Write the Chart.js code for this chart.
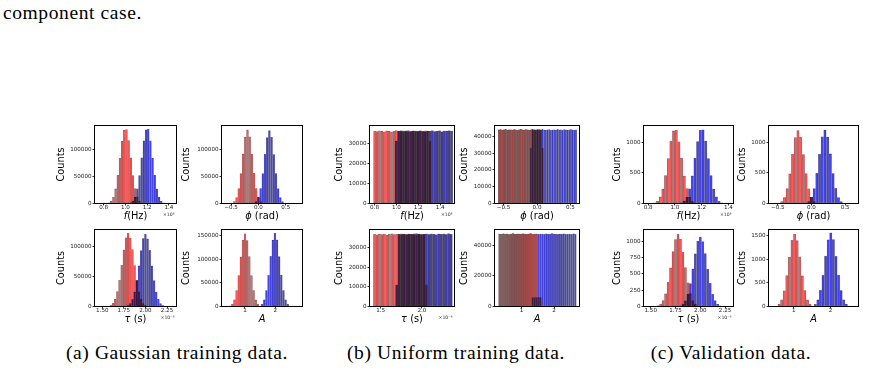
<!DOCTYPE html>
<html>
<head>
<meta charset="utf-8">
<script src="https://cdn.jsdelivr.net/npm/chart.js@4.4.1/dist/chart.umd.min.js"></script>
<style>
  html, body { margin: 0; padding: 0; background: #fff; }
  body { width: 888px; height: 392px; position: relative; overflow: hidden; }
  canvas { position: absolute; }
  .txt { position: absolute; font-family: 'Liberation Serif', serif; font-size: 19.5px; line-height: 1; letter-spacing: 0.6px; color: #000; white-space: nowrap; }
  .cap { transform: translateX(-50%); }
</style>
</head>
<body>
<div class="txt" style="left:3px; top:3px;">component case.</div>
<div class="txt cap" style="left:177px; top:343px;">(a) Gaussian training data.</div>
<div class="txt cap" style="left:456px; top:343px;">(b) Uniform training data.</div>
<div class="txt cap" style="left:731px; top:343px;">(c) Validation data.</div>
<script>
// ---- tick values / labels ----
const freqTicks = [0.8, 1.0, 1.2, 1.4];
const freqTickLabels = ['0.8', '1.0', '1.2', '1.4'];
const phiTicks = [-0.5, 0, 0.5];
const phiTickLabels = ['\u22120.5', '0.0', '0.5'];
const tauTicks = [1.5, 1.75, 2.0, 2.25];
const tauTickLabels = ['1.50', '1.75', '2.00', '2.25'];
const tauTicksUni = [1.5, 2.0];
const tauTickLabelsUni = ['1.5', '2.0'];
const ampTicks = [1, 2];
const ampTickLabels = ['1', '2'];

const countTicks50k = [0, 50000, 100000];
const countTicks150k = [0, 50000, 100000, 150000];
const countTicks30k = [0, 10000, 20000, 30000];
const countTicks40k = [0, 10000, 20000, 30000, 40000];
const countTicks40kB = [0, 20000, 40000];
const countTicks1k = [0, 500, 1000];
const countTicksTau = [0, 250, 500, 750, 1000];
const countTicks1500 = [0, 500, 1000, 1500];

// ---- (a) Gaussian training data: bin grid (first edge, width) and counts ----
const aFreqBins = [0.74, 0.02];
const aFreqRed = [0,0,20,90,430,1500,4900,12400,27600,52800,84600,116500,136900,137600,117200,85100,52300,27900,12600,4700,1500,410,90,20,0,0,0,0,0,0,0,0,0,0,0,0];
const aFreqBlue = [0,0,0,0,0,0,0,0,0,0,0,0,20,90,420,1500,4800,12500,27800,52400,85300,116800,137300,138100,117000,84900,52700,27500,12500,4900,1500,420,90,20,0,0];

const aPhiBins = [-0.62, 0.04];
const aPhiRed = [5,40,260,1070,3950,11500,28300,56100,92500,123800,137200,124300,92000,56500,28100,11700,3880,1090,240,40,5,0,0,0,0,0,0,0,0,0,0,0,0,0];
const aPhiBlue = [0,0,0,0,0,0,0,0,0,0,5,40,250,1080,3890,11600,28100,55800,91900,123000,136100,123500,91500,56000,27900,11500,3920,1060,240,40,5,0,0,0];

const aTauBins = [1.4375, 0.025];
const aTauRed = [0,0,10,50,210,690,2080,5450,12200,24900,43700,68900,94300,114600,122100,114200,94800,68500,44000,24700,12400,5350,2110,700,190,50,10,0,0,0,0,0,0,0,0];
const aTauBlue = [0,0,0,0,0,0,0,0,0,0,10,50,200,690,2040,5320,12150,24600,43300,67900,93200,113200,120400,112800,93600,67700,43500,24400,12250,5280,2060,680,200,50,10];

const aAmpBins = [0.34, 0.07];
const aAmpRed = [80,360,1510,5080,14600,33800,65900,105200,140300,154100,139800,105700,65600,34000,14400,5120,1490,370,80,10,0,0,0,0,0,0,0,0,0,0,0,0,0,0,0];
const aAmpBlue = [0,0,0,0,0,0,0,0,0,0,0,0,0,0,80,370,1500,5110,14500,34000,66100,106200,140800,155200,141100,105800,66300,34000,14600,5090,1510,370,80,10,0];

// ---- (b) Uniform training data ----
const bFreqBins = [0.79, 0.022];
const bFreqRed = [36100,35900,36300,36000,35800,36200,36000,35700,36100,36400,36000,35900,36200,36100,35800,36000,36300,35900,36100,36000,35800,36200,36000,31000,0,0,0,0,0,0,0,0,0];
const bFreqBlue = [0,0,0,0,0,0,0,0,0,31200,36000,36200,35900,36100,36300,35800,36000,36100,35900,36200,36000,35700,36100,36000,36300,35900,36000,36200,35800,36100,36000,36300,36100];

const bPhiBins = [-0.58, 0.025];
const bPhiRed = [44000,44200,43900,44100,44300,43800,44000,44100,43900,44200,44000,43700,44100,44300,44000,43900,44200,44100,43800,44000,44300,44100,43900,44000,44200,43900,33000,0,0,0,0,0,0,0,0,0,0,0,0,0,0,0,0,0,0,0,0];
const bPhiBlue = [0,0,0,0,0,0,0,0,0,0,0,0,0,0,0,0,0,0,0,33000,44100,43900,44000,44200,43800,44100,44300,44000,43900,44100,44200,43800,44000,44100,43900,44300,44000,44100,43800,44200,44000,43900,44100,44200,44000,43800,44100];

const bTauBins = [1.41, 0.03];
const bTauRed = [37000,36800,37200,36900,37100,36700,37000,37300,36900,37000,37100,36800,37200,37000,36900,37100,37300,36800,37000,37200,36900,11000,0,0,0,0,0,0,0,0,0,0];
const bTauBlue = [0,0,0,0,0,0,0,0,0,11000,36900,37100,37000,36800,37200,37000,36900,37300,37100,36800,37000,37200,36900,37100,37000,36800,37200,37000,37100,36900,37300,37000];

const bAmpBins = [0.29, 0.06];
const bAmpRed = [47500,47300,47700,47400,47600,47200,47500,47800,47400,47500,47600,47300,47700,47500,47400,47600,47800,47300,47500,47600,6000,6000,0,0,0,0,0,0,0,0,0,0,0,0,0,0,0,0,0,0];
const bAmpBlue = [0,0,0,0,0,0,0,0,0,0,0,0,0,0,0,0,0,6000,6000,6000,47400,47600,47500,47300,47700,47500,47400,47800,47600,47500,47300,47600,47500,47700,47400,47500,47600,47300,47700,47500];

// ---- (c) Validation data ----
const cFreqBins = [0.78, 0.02];
const cFreqRed = [0,1,3,14,40,110,238,458,733,1018,1186,1197,1008,742,450,245,104,41,13,4,1,0,0,0,0,0,0,0,0,0,0,0];
const cFreqBlue = [0,0,0,0,0,0,0,0,0,0,0,1,4,12,42,107,243,452,741,1012,1196,1203,1020,735,458,238,110,40,13,4,1,0];

const cPhiBins = [-0.62, 0.04];
const cPhiRed = [0,0,2,9,35,99,247,486,805,1075,1192,1081,798,492,243,102,33,9,2,0,0,0,0,0,0,0,0,0,0,0,0,0];
const cPhiBlue = [0,0,0,0,0,0,0,0,0,0,0,0,2,9,34,103,245,495,806,1090,1198,1084,812,490,249,101,35,9,2,0,0,0];

const cTauBins = [1.4625, 0.025];
const cTauRed = [0,0,1,4,15,38,95,197,372,594,843,1029,1108,1035,836,598,366,201,93,40,13,4,1,0,0,0,0,0,0,0,0,0,0,0];
const cTauBlue = [0,0,0,0,0,0,0,0,0,0,0,1,4,13,38,90,195,355,579,810,1002,1068,996,815,575,359,191,92,36,13,4,1,0,0];

const cAmpBins = [0.43, 0.07];
const cAmpRed = [4,15,50,146,336,658,1049,1400,1533,1395,1055,652,340,143,52,15,4,1,0,0,0,0,0,0,0,0,0,0,0,0,0,0];
const cAmpBlue = [0,0,0,0,0,0,0,0,0,0,0,0,0,1,4,15,52,145,344,661,1068,1413,1558,1419,1063,666,340,147,50,15,4,1];

// ---- styles ----
const RED = 'rgb(242,92,92)';
const RED_EDGE = 'rgba(60,25,25,0.55)';
const BLUE = 'rgb(70,70,232)';
const BLUE_EDGE = 'rgba(20,20,60,0.55)';
const SHADE = 'rgba(60,50,50,0.34)';
const TICK_FONT = { family: 'DejaVu Sans', size: 5.6, lineHeight: 1.2 };
const FONT = '"DejaVu Sans"';

const freqLabel = [['f', 'italic'], ['(Hz)', 'normal']];
const phiLabel = [['\u03d5', 'italic'], [' (rad)', 'normal']];
const tauLabel = [['\u03c4', 'italic'], [' (s)', 'normal']];
const ampLabel = [['A', 'italic']];

// plot box on the page [left, top, right, bottom] and centre of the "Counts" title
const panels = [
  { plot: [94.5, 125.5, 176.5, 203.5], countsX: 62.3, bins: aFreqBins, red: aFreqRed, blue: aFreqBlue, x: [0.716, 1.47], xt: freqTicks, xl: freqTickLabels, yMax: 145000, yt: countTicks50k, label: freqLabel, offset: '\u00d710\u2076' },
  { plot: [221.5, 125.5, 302.5, 203.5], countsX: 186.7, bins: aPhiBins, red: aPhiRed, blue: aPhiBlue, x: [-0.675, 0.805], xt: phiTicks, xl: phiTickLabels, yMax: 145000, yt: countTicks50k, label: phiLabel },
  { plot: [94.5, 229.5, 176.5, 306.5], countsX: 61.7, bins: aTauBins, red: aTauRed, blue: aTauBlue, x: [1.41, 2.36], xt: tauTicks, xl: tauTickLabels, yMax: 128000, yt: countTicks50k, label: tauLabel, offset: '\u00d710\u207b\u2076' },
  { plot: [221.5, 229.5, 302.5, 306.5], countsX: 186.7, bins: aAmpBins, red: aAmpRed, blue: aAmpBlue, x: [0.23, 2.89], xt: ampTicks, xl: ampTickLabels, yMax: 162800, yt: countTicks150k, label: ampLabel },

  { plot: [369.5, 125.5, 454.5, 203.5], countsX: 340, bins: bFreqBins, red: bFreqRed, blue: bFreqBlue, shade: bFreqBlue, x: [0.754, 1.532], xt: freqTicks, xl: freqTickLabels, yMax: 38800, yt: countTicks30k, label: freqLabel, offset: '\u00d710\u2076' },
  { plot: [494.5, 125.5, 579.5, 203.5], countsX: 465, bins: bPhiBins, red: bPhiRed, blue: bPhiBlue, shade: bPhiRed, x: [-0.635, 0.635], xt: phiTicks, xl: phiTickLabels, yMax: 46500, yt: countTicks40k, label: phiLabel },
  { plot: [369.5, 229.5, 454.5, 306.5], countsX: 340, bins: bTauBins, red: bTauRed, blue: bTauBlue, shade: bTauBlue, x: [1.364, 2.396], xt: tauTicksUni, xl: tauTickLabelsUni, yMax: 39400, yt: countTicks30k, label: tauLabel, offset: '\u00d710\u207b\u2076' },
  { plot: [494.5, 229.5, 579.5, 306.5], countsX: 465, bins: bAmpBins, red: bAmpRed, blue: bAmpBlue, shade: bAmpRed, x: [0.164, 2.786], xt: ampTicks, xl: ampTickLabels, yMax: 50400, yt: countTicks40kB, label: ampLabel },

  { plot: [643.5, 125.5, 733.5, 203.5], countsX: 618.3, bins: cFreqBins, red: cFreqRed, blue: cFreqBlue, x: [0.765, 1.438], xt: freqTicks, xl: freqTickLabels, yMax: 1270, yt: countTicks1k, label: freqLabel, offset: '\u00d710\u2076' },
  { plot: [768.5, 125.5, 858.5, 203.5], countsX: 743.3, bins: cPhiBins, red: cPhiRed, blue: cPhiBlue, x: [-0.637, 0.697], xt: phiTicks, xl: phiTickLabels, yMax: 1270, yt: countTicks1k, label: phiLabel },
  { plot: [643.5, 229.5, 733.5, 306.5], countsX: 618.3, bins: cTauBins, red: cTauRed, blue: cTauBlue, x: [1.427, 2.335], xt: tauTicks, xl: tauTickLabels, yMax: 1180, yt: countTicksTau, label: tauLabel, offset: '\u00d710\u207b\u2076' },
  { plot: [768.5, 229.5, 858.5, 306.5], countsX: 743.3, bins: cAmpBins, red: cAmpRed, blue: cAmpBlue, x: [0.319, 2.755], xt: ampTicks, xl: ampTickLabels, yMax: 1627, yt: countTicks1500, label: ampLabel }
];

function makePanel(p) {
  const [l, t, r, b] = p.plot;
  const cl = Math.round(p.countsX - 6);
  const ct = Math.round(t - 6);
  const cw = Math.ceil(r + 8) - cl;
  const ch = Math.ceil(b + 22) - ct;
  const yAxisW = l - cl;
  const xAxisH = ct + ch - b;

  const canvas = document.createElement('canvas');
  canvas.width = cw;
  canvas.height = ch;
  canvas.style.left = cl + 'px';
  canvas.style.top = ct + 'px';
  document.body.appendChild(canvas);

  const [lo, w] = p.bins;
  const toPoints = counts => counts.map((c, i) => ({ x: lo + (i + 0.5) * w, y: c }));
  const bar = (counts, fill, edge) => ({
    data: toPoints(counts),
    backgroundColor: fill,
    borderColor: edge,
    borderWidth: 0.35,
    borderSkipped: false,
    inflateAmount: 0.15,
    grouped: false,
    barPercentage: 1,
    categoryPercentage: 1
  });
  const datasets = [bar(p.red, RED, RED_EDGE), bar(p.blue, BLUE, BLUE_EDGE)];
  if (p.shade) {
    const s = bar(p.shade, SHADE, 'rgba(0,0,0,0)');
    s.borderWidth = 0;
    s.order = -1;
    s.blend = 'source-over';
    datasets.push(s);
  }

  const tickGrid = { display: true, drawOnChartArea: false, drawTicks: true, tickLength: 2, tickWidth: 0.8, tickColor: '#000', offset: false };

  const decor = {
    id: 'decor',
    // red and blue bars multiply where they overlap (dark band)
    beforeDatasetDraw(chart, args) {
      const ds = chart.data.datasets[args.index];
      chart.ctx.globalCompositeOperation = ds.blend || 'multiply';
    },
    afterDatasetDraw(chart) {
      chart.ctx.globalCompositeOperation = 'source-over';
    },
    afterDraw(chart) {
      const { ctx, chartArea: a } = chart;
      ctx.save();
      ctx.strokeStyle = '#000';
      ctx.lineWidth = 1;
      ctx.strokeRect(a.left, a.top, a.right - a.left, a.bottom - a.top);

      // x axis label (mixed italic / upright)
      ctx.fillStyle = '#000';
      ctx.textBaseline = 'middle';
      ctx.textAlign = 'left';
      let total = 0;
      const widths = p.label.map(([txt, st]) => {
        ctx.font = st + ' 9.8px ' + FONT;
        const wd = ctx.measureText(txt).width;
        total += wd;
        return wd;
      });
      let x = (a.left + a.right) / 2 - total / 2;
      p.label.forEach(([txt, st], i) => {
        ctx.font = st + ' 9.8px ' + FONT;
        ctx.fillText(txt, x, a.bottom + 13.3);
        x += widths[i];
      });

      if (p.offset) {
        ctx.font = '4.6px ' + FONT;
        ctx.fillStyle = '#333';
        ctx.textAlign = 'right';
        ctx.fillText(p.offset, a.right - 2, a.bottom + 11.5);
      }
      ctx.restore();
    }
  };

  new Chart(canvas, {
    type: 'bar',
    data: { datasets },
    options: {
      responsive: false,
      animation: false,
      devicePixelRatio: 1,
      layout: { padding: { left: 0, top: t - ct, right: cl + cw - r, bottom: 0 } },
      plugins: { legend: { display: false }, tooltip: { enabled: false } },
      scales: {
        x: {
          type: 'linear',
          min: p.x[0],
          max: p.x[1],
          offset: false,
          grid: tickGrid,
          border: { display: false },
          afterBuildTicks: s => { s.ticks = p.xt.map(v => ({ value: v })); },
          afterFit: s => { s.height = xAxisH; s.paddingLeft = 0; s.paddingRight = 0; },
          ticks: { autoSkip: false, maxRotation: 0, padding: -1, color: '#222', font: TICK_FONT, callback: (v, i) => p.xl[i] }
        },
        y: {
          min: 0,
          max: p.yMax,
          grid: tickGrid,
          border: { display: false },
          afterBuildTicks: s => { s.ticks = p.yt.map(v => ({ value: v })); },
          afterFit: s => { s.width = yAxisW; s.paddingTop = 0; s.paddingBottom = 0; },
          ticks: { padding: 1, color: '#222', font: TICK_FONT, callback: v => String(v) },
          title: { display: true, text: 'Counts', color: '#000', padding: 0, font: { family: 'DejaVu Sans', size: 9.8, lineHeight: 1.2 } }
        }
      }
    },
    plugins: [decor]
  });
}

panels.forEach(makePanel);
</script>
</body>
</html>
